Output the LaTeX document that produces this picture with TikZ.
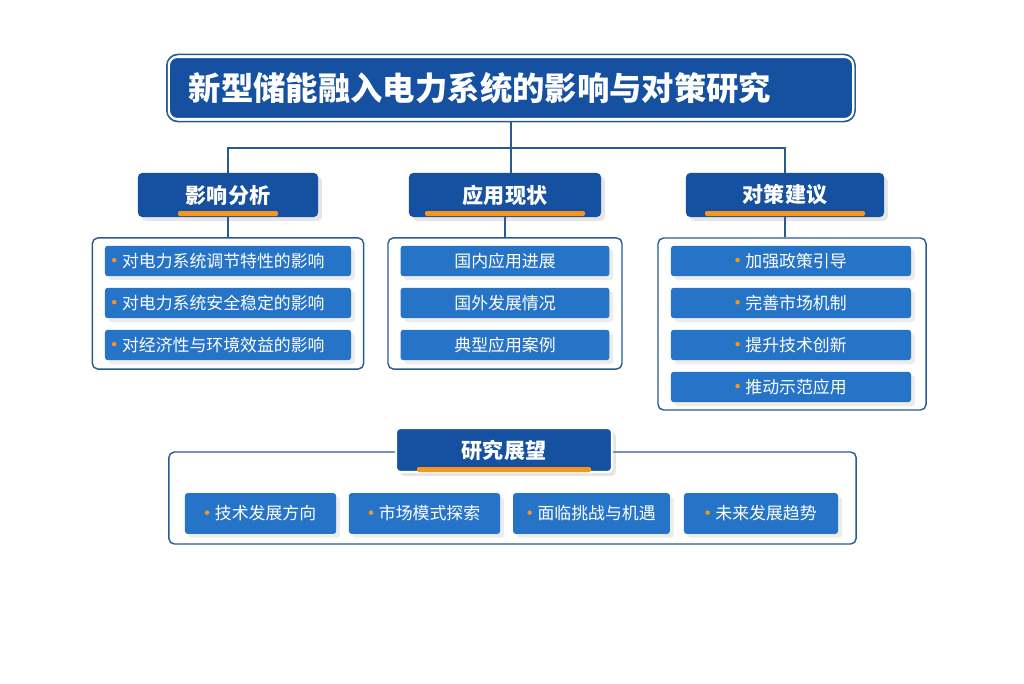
\documentclass[tikz,border=0pt]{standalone}
\usepackage{fontspec}
\setmainfont{Noto Sans CJK SC}
\usetikzlibrary{positioning, shadows}
\definecolor{deepblue}{RGB}{22, 80, 160}
\definecolor{itemblue}{RGB}{38, 116, 200}
\definecolor{lineblue}{RGB}{40, 90, 150}
\definecolor{accent}{RGB}{245, 150, 30}
\newcommand{\dotmark}{\textcolor{accent}{\raisebox{0.3em}{\tikz\fill (0,0) circle (1.6pt);}}\hspace{4pt}}

\begin{document}
\begin{tikzpicture}[x=0.025cm, y=-0.025cm,
    title/.style={rectangle, rounded corners=6pt, draw=white, line width=1.5pt, fill=deepblue,
                  text=white, font=\fontsize{23}{26}\selectfont\bfseries,
                  minimum width=17.1cm, minimum height=1.55cm, align=left, text width=16.1cm},
    header/.style={rectangle, rounded corners=3pt, fill=deepblue, text=white,
                   font=\fontsize{15}{17}\selectfont\bfseries, minimum height=1.1cm,
                   drop shadow={opacity=0.2}},
    group/.style={rectangle, rounded corners=4pt, draw=lineblue, line width=1pt, fill=white},
    item/.style={rectangle, rounded corners=2pt, fill=itemblue, text=white,
                 font=\fontsize{12}{14}\selectfont, minimum height=0.76cm, drop shadow={opacity=0.15}},
    bar/.style={fill=accent, rounded corners=1pt},
    link/.style={draw=lineblue, line width=0.9pt}]

    \useasboundingbox (0,0) rectangle (1024,683);

    % Title
    \node[rectangle, rounded corners=8pt, draw=lineblue, line width=1.2pt, fill=white,
          minimum width=17.2cm, minimum height=1.68cm] (frame) at (511,88) {};
    \node[title] (main) at (511,88) {新型储能融入电力系统的影响与对策研究};

    % Headers
    \node[header, minimum width=4.5cm] (impact) at (228,195) {影响分析};
    \node[header, minimum width=4.8cm] (status) at (505,195) {应用现状};
    \node[header, minimum width=4.95cm] (policy) at (785,195) {对策建议};
    \fill[bar] (178,211) rectangle (278,216);
    \fill[bar] (425,211) rectangle (585,216);
    \fill[bar] (705,211) rectangle (865,216);

    % Connections
    \coordinate (split) at (511,148);
    \draw[link] (frame.south) -- (split);
    \draw[link] (impact.north) |- (split) -| (policy.north);
    \draw[link] (split) -- (status.north -| split);

    % Groups
    \node[group, minimum width=6.78cm, minimum height=3.28cm] (gleft) at (228,303.5) {};
    \node[group, minimum width=5.85cm, minimum height=3.28cm] (gmid) at (505,303.5) {};
    \node[group, minimum width=6.7cm, minimum height=4.3cm] (gright) at (792,324) {};
    \draw[link] (impact.south) -- (gleft.north);
    \draw[link] (status.south) -- (gmid.north);
    \draw[link] (policy.south) -- (policy.south |- gright.north);

    % Items
    \foreach \y/\t [count=\i] in {261/对电力系统调节特性的影响, 303/对电力系统安全稳定的影响, 345/对经济性与环境效益的影响}
        \node[item, minimum width=6.15cm, text width=5.8cm, align=left] (left\i) at (228,\y) {\dotmark\t};
    \foreach \y/\t [count=\i] in {261/国内应用进展, 303/国外发展情况, 345/典型应用案例}
        \node[item, minimum width=5.22cm] (mid\i) at (505,\y) {\t};
    \foreach \y/\t [count=\i] in {261/加强政策引导, 303/完善市场机制, 345/提升技术创新, 387/推动示范应用}
        \node[item, minimum width=6cm] (right\i) at (791,\y) {\dotmark\t};

    % Outlook
    \node[group, minimum width=17.18cm, minimum height=2.3cm] (gbottom) at (512.5,498) {};
    \node[header, minimum width=5.4cm, draw=white, line width=1.5pt] (outlook) at (504,450) {研究展望};
    \fill[bar] (417,467) rectangle (591,472);
    \foreach \x/\w/\t [count=\i] in {260.5/3.78/技术发展方向, 424.5/3.78/市场模式探索, 591.5/3.92/面临挑战与机遇, 761/3.85/未来发展趋势}
        \node[item, minimum width=\w cm, minimum height=1.02cm] (out\i) at (\x,513.5) {\dotmark\t};
\end{tikzpicture}
\end{document}
